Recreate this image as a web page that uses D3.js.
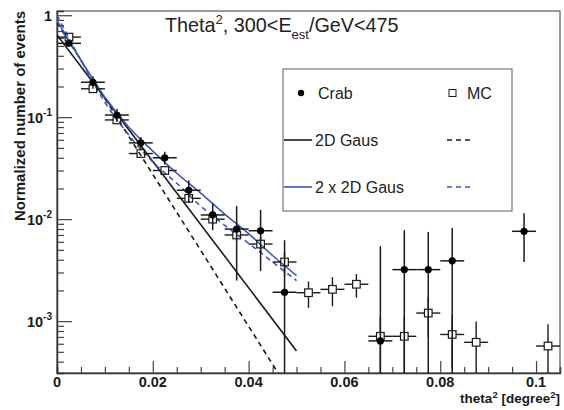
<!DOCTYPE html>
<html>
<head>
<meta charset="utf-8">
<script src="https://cdn.jsdelivr.net/npm/d3@7"></script>
<style>
  html, body { margin: 0; padding: 0; background: #fff; }
  svg { display: block; }
  text { font-family: "Liberation Sans", Arial, Helvetica, sans-serif; }
</style>
</head>
<body>
<svg id="chart" width="564" height="410"></svg>
<script>
// ---------- data ----------
const crabX   = [0.0025,0.0075,0.0125,0.0175,0.0225,0.0275,0.0325,0.0375,0.0425,0.0475,0.0675,0.0725,0.0775,0.0825,0.0975];
const crabY   = [0.53,0.22,0.105,0.056,0.040,0.0192,0.011,0.0080,0.0077,0.00192,0.00064,0.0032,0.0032,0.0039,0.0076];
const crabErr = [0.02,0.03,0.015,0.008,0.0057,0.0048,0.0032,0.0055,0.0046,0.0043,0.0048,0.0046,0.0043,0.0043,0.0038];

const mcX   = [0.0025,0.0075,0.0125,0.0175,0.0225,0.0275,0.0325,0.0375,0.0425,0.0475,0.0525,0.0575,0.0625,0.0675,0.0725,0.0775,0.0825,0.0875,0.1025];
const mcY   = [0.61,0.19,0.094,0.044,0.030,0.016,0.010,0.0070,0.0057,0.0038,0.0019,0.00205,0.0023,0.00071,0.00071,0.0012,0.00074,0.00062,0.00057];
const mcErr = [0.01,0.005,0.003,0.002,0.0015,0.0012,0.001,0.0009,0.0010,0.0010,0.00055,0.00065,0.0006,0.0004,0.0004,0.0005,0.0004,0.00037,0.00036];

const binHalfWidth = 0.0025;

// fit curves
const gausX      = [0, 0.05];
const crabGaus   = [0.64, 0.00051];
const mcGaus     = [0.85, 0.00016];
const dgX        = [0, 0.005, 0.01, 0.015, 0.02, 0.025, 0.03, 0.035, 0.04, 0.045, 0.05];
const crabDGaus  = [0.89, 0.362, 0.157, 0.0798, 0.0465, 0.0282, 0.0180, 0.0112, 0.0072, 0.0044, 0.0028];
const mcDGaus    = [1.0, 0.362, 0.140, 0.0667, 0.0364, 0.0225, 0.0134, 0.0087, 0.0058, 0.0038, 0.0025];

const xMajorTicks = [0, 0.02, 0.04, 0.06, 0.08, 0.1];
const xTickLabels = ["0", "0.02", "0.04", "0.06", "0.08", "0.1"];
const yMajorTicks = [1, 0.1, 0.01, 0.001];
const yTickExp    = ["", "-1", "-2", "-3"];

// ---------- layout ----------
const L = 57, R = 560, T = 11, B = 373;
const blue = "#3a55c0";
const ink = "#1a1a1a";

const svg = d3.select("#chart");
const x = d3.scaleLinear().domain([0, 0.105]).range([L, R]);
const y = d3.scaleLog().domain([3.1e-4, 1.1]).range([B, T]);

svg.append("defs").append("clipPath").attr("id", "clip")
  .append("rect").attr("x", L).attr("y", T).attr("width", R - L).attr("height", B - T);

// frame
svg.append("rect").attr("x", L).attr("y", T).attr("width", R - L).attr("height", B - T)
  .attr("fill", "none").attr("stroke", "#555").attr("stroke-width", 1.2);

// x axis ticks (inward)
const xMinor = d3.range(0, 0.1051, 0.005);
const xAxis = svg.append("g").attr("transform", `translate(0,${B})`);
xAxis.call(d3.axisBottom(x).tickValues(xMinor).tickSize(-6).tickFormat(""));
xAxis.call(g => g.selectAll(".tick").filter(d => xMajorTicks.some(m => Math.abs(m - d) < 1e-9)).select("line").attr("y2", -12));
xAxis.select(".domain").attr("stroke", "#333").attr("stroke-width", 1.5);
xAxis.selectAll(".tick line").attr("stroke", "#444").attr("stroke-width", 1.2);

svg.append("g").selectAll("text").data(xMajorTicks).join("text")
  .attr("x", d => x(d)).attr("y", 386.5).attr("text-anchor", "middle")
  .attr("font-size", 14.5).attr("font-weight", "bold").attr("fill", ink)
  .text((d, i) => xTickLabels[i]);

// y axis ticks (inward)
const yMinor = [];
[1e-4, 1e-3, 1e-2, 1e-1].forEach(dec => { for (let k = 2; k <= 9; k++) { const v = dec * k; if (v >= 3.1e-4 && v <= 1.1) yMinor.push(v); } });
const yAxis = svg.append("g").attr("transform", `translate(${L},0)`);
yAxis.call(d3.axisLeft(y).tickValues(yMinor.concat(yMajorTicks)).tickSize(-7).tickFormat(""));
yAxis.call(g => g.selectAll(".tick").filter(d => yMajorTicks.includes(d)).select("line").attr("x2", 15));
yAxis.select(".domain").attr("stroke", "#333").attr("stroke-width", 1.5);
yAxis.selectAll(".tick line").attr("stroke", "#444").attr("stroke-width", 1.2);

const yl = svg.append("g").selectAll("text").data(yMajorTicks).join("text")
  .attr("x", 52).attr("y", d => y(d) + 6).attr("text-anchor", "end")
  .attr("font-size", 14.5).attr("font-weight", "bold").attr("fill", ink);
yl.each(function(d, i) {
  const t = d3.select(this);
  if (yTickExp[i] === "") { t.text("1"); return; }
  t.append("tspan").text("10");
  t.append("tspan").attr("font-size", 10).attr("dy", -7).text(yTickExp[i]);
});

// axis titles
const xt = svg.append("text").attr("x", R).attr("y", 403).attr("text-anchor", "end")
  .attr("font-size", 13.5).attr("font-weight", "bold").attr("fill", ink);
xt.append("tspan").text("theta");
xt.append("tspan").attr("font-size", 9.5).attr("dy", -5).text("2");
xt.append("tspan").attr("dy", 5).text(" [degree");
xt.append("tspan").attr("font-size", 9.5).attr("dy", -5).text("2");
xt.append("tspan").attr("dy", 5).text("]");

svg.append("text").attr("transform", `translate(25,${T}) rotate(-90)`)
  .attr("text-anchor", "end").attr("font-size", 15).attr("font-weight", "bold").attr("fill", ink)
  .text("Normalized number of events");

// title
const tt = svg.append("text").attr("x", 165).attr("y", 32).attr("font-size", 19.8).attr("fill", "#222");
tt.append("tspan").text("Theta");
tt.append("tspan").attr("font-size", 13).attr("dy", -8).text("2");
tt.append("tspan").attr("dy", 8).text(", 300<E");
tt.append("tspan").attr("font-size", 13).attr("dy", 7).text("est");
tt.append("tspan").attr("dy", -7).text("/GeV<475");

// ---------- fit curves ----------
const plot = svg.append("g").attr("clip-path", "url(#clip)");
const line = d3.line().x(d => x(d[0])).y(d => y(d[1]));
const zip = (xs, ys) => xs.map((v, i) => [v, ys[i]]);

plot.append("path").datum(zip(gausX, mcGaus)).attr("d", line)
  .attr("fill", "none").attr("stroke", ink).attr("stroke-width", 1.6).attr("stroke-dasharray", "5,4");
plot.append("path").datum(zip(gausX, crabGaus)).attr("d", line)
  .attr("fill", "none").attr("stroke", ink).attr("stroke-width", 1.6);
plot.append("path").datum(zip(dgX, mcDGaus)).attr("d", d3.line().curve(d3.curveMonotoneX).x(d => x(d[0])).y(d => y(d[1])))
  .attr("fill", "none").attr("stroke", blue).attr("stroke-width", 1.6).attr("stroke-dasharray", "5,4");
plot.append("path").datum(zip(dgX, crabDGaus)).attr("d", d3.line().curve(d3.curveMonotoneX).x(d => x(d[0])).y(d => y(d[1])))
  .attr("fill", "none").attr("stroke", blue).attr("stroke-width", 1.6);

// ---------- data points ----------
const yClamp = v => v <= 3.1e-4 ? B : Math.max(T, y(v));
const sq = 3.8;

// MC: error bars with gap around open square
const mcG = plot.append("g").attr("stroke", ink).attr("stroke-width", 1.4);
mcX.forEach((cx, i) => {
  const px = x(cx), py = y(mcY[i]);
  const top = yClamp(mcY[i] + mcErr[i]), bot = yClamp(mcY[i] - mcErr[i]);
  const xl = x(cx - binHalfWidth), xr = x(cx + binHalfWidth);
  if (top < py - sq) mcG.append("line").attr("x1", px).attr("x2", px).attr("y1", top).attr("y2", py - sq);
  if (bot > py + sq) mcG.append("line").attr("x1", px).attr("x2", px).attr("y1", py + sq).attr("y2", bot);
  mcG.append("line").attr("x1", xl).attr("x2", px - sq).attr("y1", py).attr("y2", py);
  mcG.append("line").attr("x1", px + sq).attr("x2", xr).attr("y1", py).attr("y2", py);
});

// Crab error bars and markers
const crG = plot.append("g").attr("stroke", ink).attr("stroke-width", 1.5);
crabX.forEach((cx, i) => {
  const px = x(cx), py = y(crabY[i]);
  crG.append("line").attr("x1", px).attr("x2", px)
    .attr("y1", yClamp(crabY[i] + crabErr[i])).attr("y2", yClamp(crabY[i] - crabErr[i]));
  crG.append("line").attr("x1", x(cx - binHalfWidth)).attr("x2", x(cx + binHalfWidth)).attr("y1", py).attr("y2", py);
});

// MC squares
plot.append("g").selectAll("rect").data(mcX).join("rect")
  .attr("x", d => x(d) - sq).attr("y", (d, i) => y(mcY[i]) - sq)
  .attr("width", 2 * sq).attr("height", 2 * sq)
  .attr("fill", "none").attr("stroke", ink).attr("stroke-width", 1.2);

// Crab dots
plot.append("g").selectAll("circle").data(crabX).join("circle")
  .attr("cx", d => x(d)).attr("cy", (d, i) => y(crabY[i])).attr("r", 3.6).attr("fill", "#000");

// ---------- legend ----------
const lg = svg.append("g");
lg.append("rect").attr("x", 283).attr("y", 69).attr("width", 229).attr("height", 142)
  .attr("fill", "#fff").attr("stroke", "#777").attr("stroke-width", 1.2);
const rows = [93, 140, 187];
lg.append("circle").attr("cx", 301).attr("cy", rows[0]).attr("r", 3.2).attr("fill", "#000");
lg.append("rect").attr("x", 449).attr("y", rows[0] - 3.5).attr("width", 7).attr("height", 7)
  .attr("fill", "none").attr("stroke", ink).attr("stroke-width", 1);
lg.append("line").attr("x1", 284).attr("x2", 312).attr("y1", rows[1]).attr("y2", rows[1]).attr("stroke", ink).attr("stroke-width", 1.6);
lg.append("line").attr("x1", 447).attr("x2", 472).attr("y1", rows[1]).attr("y2", rows[1]).attr("stroke", ink).attr("stroke-width", 1.6).attr("stroke-dasharray", "5,4");
lg.append("line").attr("x1", 284).attr("x2", 312).attr("y1", rows[2]).attr("y2", rows[2]).attr("stroke", blue).attr("stroke-width", 1.6);
lg.append("line").attr("x1", 447).attr("x2", 472).attr("y1", rows[2]).attr("y2", rows[2]).attr("stroke", blue).attr("stroke-width", 1.6).attr("stroke-dasharray", "5,4");
const legendTexts = [["Crab", 318, rows[0]], ["MC", 467, rows[0]], ["2D Gaus", 315, rows[1]], ["2 x 2D Gaus", 315, rows[2]]];
lg.selectAll("text.lt").data(legendTexts).join("text").attr("class", "lt")
  .attr("x", d => d[1]).attr("y", d => d[2] + 6).attr("font-size", 16).attr("fill", "#222")
  .text(d => d[0]);
</script>
</body>
</html>
